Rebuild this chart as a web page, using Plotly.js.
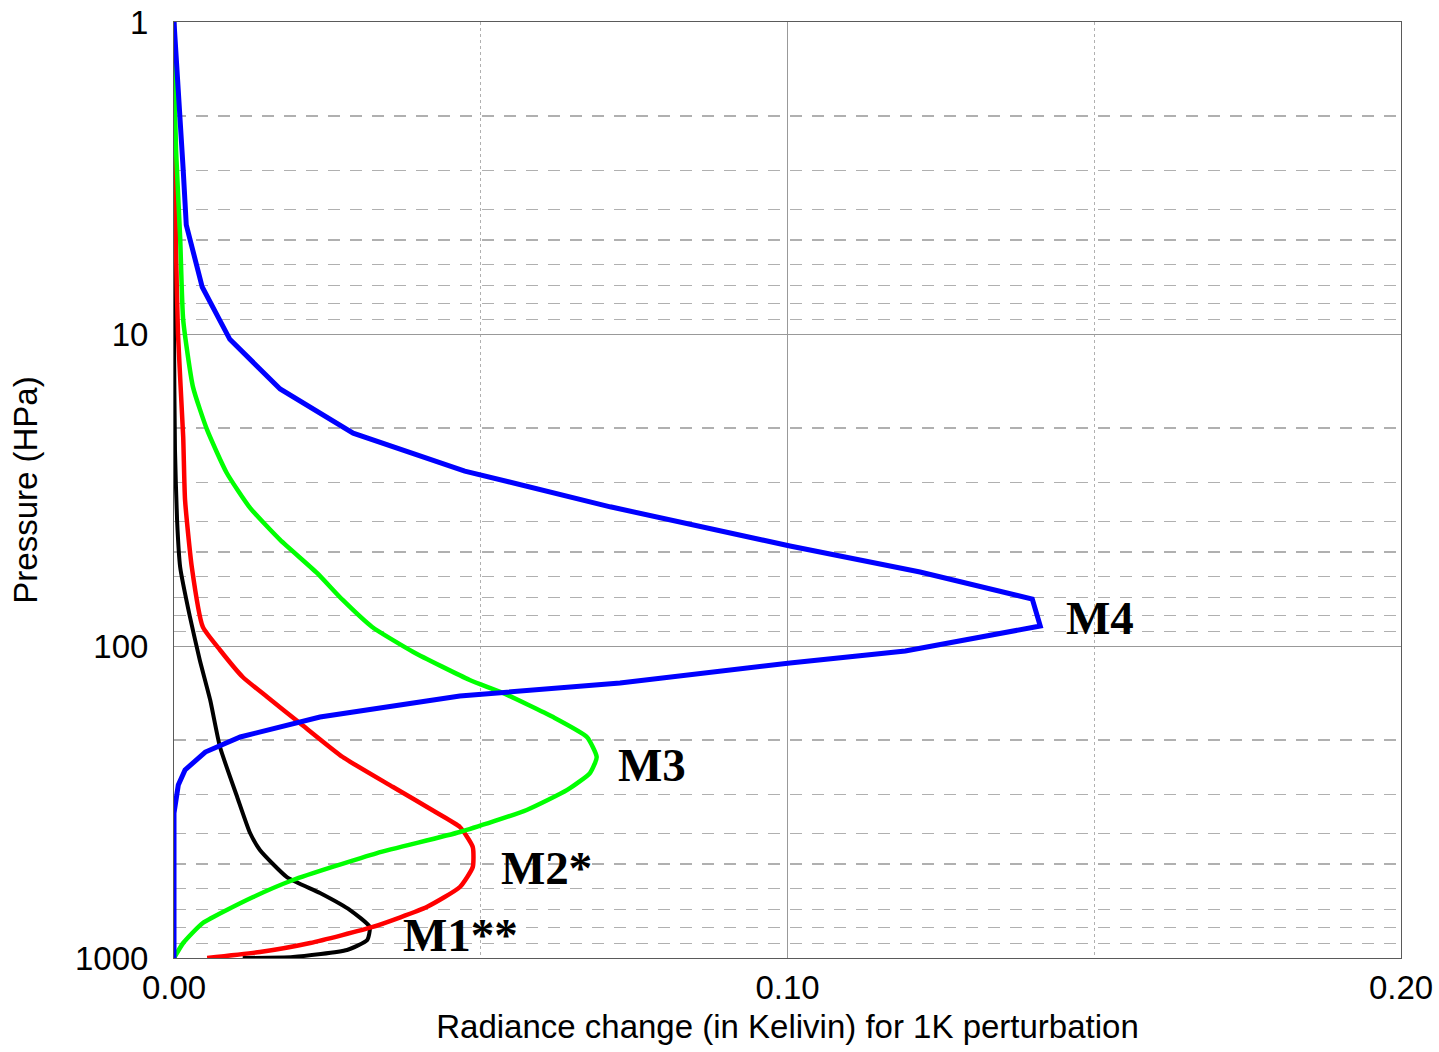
<!DOCTYPE html>
<html>
<head>
<meta charset="utf-8">
<script src="https://cdn.plot.ly/plotly-3.0.1.min.js"></script>
<style>
  html, body { margin: 0; padding: 0; background: #ffffff; }
  #chart { width: 1439px; height: 1052px; }
</style>
</head>
<body>
<div id="chart"></div>
<script>
// Weighting functions: radiance change (K) for a 1 K perturbation at each pressure level (hPa)

// M1** channel
const m1Pressure = [1, 2.57, 10, 23.5, 39.5, 55.8, 80.7, 110.9, 149, 210.8, 304.8, 397.6, 450.7, 550.2, 619, 702, 795.2, 875.6, 942.8, 992.6, 1000];
const m1Change   = [0, 0, 0, 0.00016, 0.0005, 0.001, 0.0026, 0.0042, 0.0059, 0.0075, 0.0103, 0.0124, 0.014, 0.0184, 0.0238, 0.0287, 0.0319, 0.0315, 0.0282, 0.0194, 0.0112];

// M2* channel
const m2Pressure = [1, 1.78, 5.38, 10, 21.4, 34.0, 55.8, 86.9, 103, 125.7, 145.7, 176.5, 226.9, 283.1, 343, 380.3, 440.9, 510.9, 592.1, 686.4, 795.2, 895.2, 956.9, 1000];
const m2Change   = [0, 0, 0.00033, 0.00065, 0.0015, 0.0018, 0.0029, 0.0047, 0.0075, 0.0112, 0.0152, 0.0205, 0.0275, 0.0357, 0.0429, 0.0466, 0.0487, 0.0487, 0.0466, 0.0412, 0.0324, 0.0222, 0.014, 0.0054];

// M3 channel
const m3Pressure = [1, 1.32, 2.57, 4.89, 9.02, 14.8, 20.3, 27.9, 36.1, 45.7, 58.3, 71.2, 86.9, 104.5, 128.5, 141.4, 169, 195.7, 226.9, 255.4, 289.3, 335.4, 394.6, 460.9, 562.3, 637.6, 772.2, 895.2, 1000];
const m3Change   = [0, 0, 0.00033, 0.001, 0.0015, 0.0031, 0.0054, 0.0086, 0.0124, 0.0173, 0.0233, 0.0275, 0.0323, 0.039, 0.0482, 0.0536, 0.0618, 0.0673, 0.0689, 0.0678, 0.0641, 0.0575, 0.0466, 0.0331, 0.0194, 0.0129, 0.0047, 0.0015, 0];

// M4 channel
const m4Pressure = [1, 1.53, 2.98, 4.47, 7.07, 10.4, 15.0, 20.8, 27.5, 35.8, 47.8, 57.9, 70.7, 86.3, 103.8, 113.4, 131.4, 144.6, 168.9, 195.7, 218.7, 249.7, 279, 343, 1000];
const m4Change   = [0, 0.00065, 0.0015, 0.002, 0.0046, 0.0091, 0.0173, 0.0292, 0.0474, 0.0711, 0.1004, 0.1216, 0.1399, 0.1412, 0.1192, 0.1004, 0.0727, 0.0466, 0.0238, 0.0108, 0.0051, 0.0018, 0.0007, 0, 0];

// Curve names, used as in-plot labels
const channelNames = ['M1**', 'M2*', 'M3', 'M4'];

// Axis ticks
const xTickVals  = [0, 0.1, 0.2];
const xTickText  = ['0.00', '0.10', '0.20'];
const xMinorVals = [0.05, 0.15];
const yTickVals  = [1, 10, 100, 1000];
const yTickText  = ['1', '10', '100', '1000'];
const yMinorVals = [2, 3, 4, 5, 6, 7, 8, 9, 20, 30, 40, 50, 60, 70, 80, 90, 200, 300, 400, 500, 600, 700, 800, 900];

const sansFont = '"Liberation Sans", Arial, Helvetica, sans-serif';
const serifFont = '"Liberation Serif", "Times New Roman", Times, serif';

function curve(x, y, color, width, smooth) {
  const line = { color: color, width: width };
  if (smooth) { line.shape = 'spline'; line.smoothing = smooth; }
  return {
    type: 'scatter', mode: 'lines', x: x, y: y,
    line: line,
    hoverinfo: 'x+y', showlegend: false
  };
}

const traces = [
  curve(m1Change, m1Pressure, '#000000', 4, 0.5),
  curve(m2Change, m2Pressure, '#ff0000', 4.5, 0.5),
  curve(m3Change, m3Pressure, '#00ff00', 4.5, 0.5),
  curve(m4Change, m4Pressure, '#0000ff', 5, 0)
];

// Label anchors: [x value, pressure]
const labelAt = [[0.0370, 844], [0.0529, 515], [0.0720, 241], [0.1450, 81.3]];

const annotations = channelNames.map((name, i) => ({
  text: '<b>' + name + '</b>',
  x: labelAt[i][0], y: Math.log10(labelAt[i][1]),
  xref: 'x', yref: 'y',
  xanchor: 'left', yanchor: 'middle',
  showarrow: false,
  font: { family: serifFont, size: 47, color: '#000000' }
}));

const layout = {
  width: 1439, height: 1052,
  margin: { l: 174, r: 38, t: 22, b: 94 },
  paper_bgcolor: '#ffffff', plot_bgcolor: '#ffffff',
  font: { family: sansFont, color: '#000000', size: 33 },
  xaxis: {
    range: [0, 0.2],
    tickmode: 'array', tickvals: xTickVals, ticktext: xTickText,
    tickfont: { family: sansFont, size: 33, color: '#000000' },
    ticks: '', ticklabelstandoff: 0,
    showgrid: true, gridcolor: '#999999', gridwidth: 1,
    minor: { tickmode: 'array', tickvals: xMinorVals, showgrid: true, gridcolor: '#b0b0b0', griddash: 'dot', gridwidth: 1, ticks: '' },
    showline: true, linecolor: '#5a5a5a', linewidth: 1, mirror: true,
    zeroline: false,
    title: { text: 'Radiance change (in Kelivin) for 1K perturbation', font: { family: sansFont, size: 33, color: '#000000' }, standoff: 10 }
  },
  yaxis: {
    type: 'log',
    range: [3, 0],
    tickmode: 'array', tickvals: yTickVals, ticktext: yTickText,
    tickfont: { family: sansFont, size: 33, color: '#000000' },
    ticks: '', ticklabelstandoff: 18,
    showgrid: true, gridcolor: '#999999', gridwidth: 1,
    minor: { tickmode: 'array', tickvals: yMinorVals, showgrid: true, gridcolor: '#b0b0b0', griddash: '12px,10px', gridwidth: 1.2, ticks: '' },
    showline: true, linecolor: '#5a5a5a', linewidth: 1, mirror: true,
    zeroline: false,
    title: { text: 'Pressure (HPa)', font: { family: sansFont, size: 33, color: '#000000' }, standoff: 27 }
  },
  annotations: annotations,
  showlegend: false
};

Plotly.newPlot('chart', traces, layout, { displayModeBar: false, staticPlot: true });
</script>
</body>
</html>
